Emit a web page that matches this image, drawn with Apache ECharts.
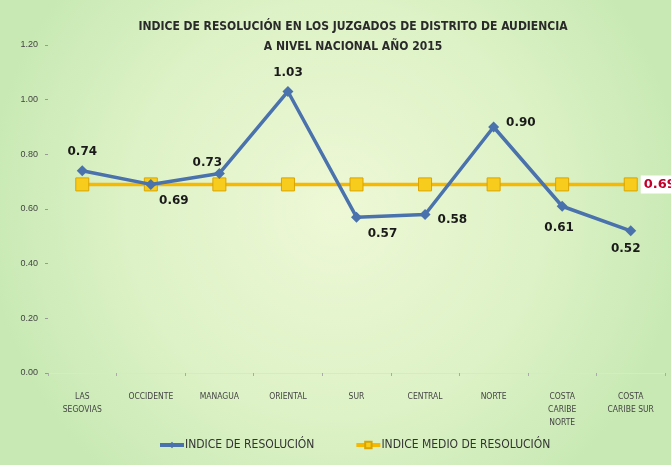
<!DOCTYPE html>
<html>
<head>
<meta charset="utf-8">
<script src="https://cdn.jsdelivr.net/npm/echarts@6/dist/echarts.min.js"></script>
<style>html,body{margin:0;padding:0;}#c{width:671px;height:465px;}</style>
</head>
<body>
<div id="c"></div>
<script>
var categories = ["LAS\nSEGOVIAS", "OCCIDENTE", "MANAGUA", "ORIENTAL", "SUR", "CENTRAL", "NORTE", "COSTA\nCARIBE\nNORTE", "COSTA\nCARIBE SUR"];
var indiceResolucion = [0.74, 0.69, 0.73, 1.03, 0.57, 0.58, 0.90, 0.61, 0.52];
var indiceMedio = [0.69, 0.69, 0.69, 0.69, 0.69, 0.69, 0.69, 0.69, 0.69];
var labelPositions = ["top", "bottom", "top", "top", "bottom", "right", "right", "bottom", "bottom"];
var labelOffsets = [[0, 0], [23, -2], [-12, 8], [0, 0], [26, -2], [0, 5], [0, -4], [-3, 3], [-5, 0]];
var yTicks = [0, 0.2, 0.4, 0.6, 0.8, 1.0, 1.2];

var chart = echarts.init(document.getElementById('c'));
var narrow = "'Liberation Sans Narrow', 'DejaVu Sans Condensed', sans-serif";
var labelFont = "'DejaVu Sans', sans-serif";

var resData = indiceResolucion.map(function (v, i) {
  return { value: v, label: { position: labelPositions[i], offset: labelOffsets[i] } };
});
var medData = indiceMedio.map(function (v, i) {
  if (i === indiceMedio.length - 1) {
    return { value: v, label: { show: true, position: 'right', distance: 3, formatter: function (p) { return p.value.toFixed(2); },
      color: '#c0002a', backgroundColor: '#ffffff', padding: [3, 3, 2, 3], fontSize: 13, fontWeight: 'bold', fontFamily: labelFont } };
  }
  return v;
});

chart.setOption({
  backgroundColor: {
    type: 'radial', x: 0.5, y: 0.45, r: 0.75,
    colorStops: [
      { offset: 0, color: '#eef8d6' },
      { offset: 0.6, color: '#ddf2c6' },
      { offset: 1, color: '#c8e9b4' }
    ]
  },
  title: {
    text: 'INDICE DE RESOLUCIÓN EN LOS JUZGADOS DE DISTRITO DE AUDIENCIA\nA NIVEL NACIONAL AÑO 2015',
    left: 348, top: 12, textAlign: 'center',
    textStyle: { fontFamily: narrow, fontSize: 12, fontWeight: 'bold', color: '#2a2a2a', lineHeight: 20 }
  },
  legend: {
    bottom: 9, left: 153, itemGap: 40, itemWidth: 24, itemHeight: 8,
    lineStyle: { width: 4 },
    textStyle: { fontFamily: narrow, fontSize: 12, color: '#333', padding: [0, 0, 0, -4] },
    data: ['INDICE DE RESOLUCIÓN', 'INDICE MEDIO DE RESOLUCIÓN']
  },
  grid: { left: 48, right: 6, top: 45, bottom: 92 },
  xAxis: {
    type: 'category', data: categories, boundaryGap: true,
    axisLine: { lineStyle: { color: '#d8e8d0' } },
    axisTick: { show: true, length: 3, lineStyle: { color: '#aaa' } },
    axisLabel: { fontFamily: narrow, fontSize: 8.5, color: '#444', margin: 17, lineHeight: 13, interval: 0 }
  },
  yAxis: {
    type: 'value', min: 0, max: 1.2, interval: 0.2,
    splitLine: { show: false },
    axisLine: { show: false },
    axisTick: { show: true, length: 3, lineStyle: { color: '#999' } },
    axisLabel: { fontFamily: "'Liberation Sans', sans-serif", fontSize: 9, color: '#444', margin: 10, align: 'right',
      formatter: function (v) { return v.toFixed(2); } }
  },
  series: [
    {
      name: 'INDICE DE RESOLUCIÓN', type: 'line', data: resData, z: 3,
      symbol: 'diamond', symbolSize: 11,
      lineStyle: { color: '#4a72ad', width: 3.5 },
      itemStyle: { color: '#4a72ad' },
      label: { show: true, fontFamily: labelFont, fontSize: 12, fontWeight: 'bold', color: '#1a1a1a', distance: 7,
        formatter: function (p) { return p.value.toFixed(2); } }
    },
    {
      name: 'INDICE MEDIO DE RESOLUCIÓN', type: 'line', data: medData, z: 2,
      symbol: 'rect', symbolSize: 13,
      lineStyle: { color: '#f6b800', width: 3.5 },
      itemStyle: { color: '#f8cc1c', borderColor: '#d9a400', borderWidth: 1 }
    }
  ]
});
</script>
</body>
</html>
